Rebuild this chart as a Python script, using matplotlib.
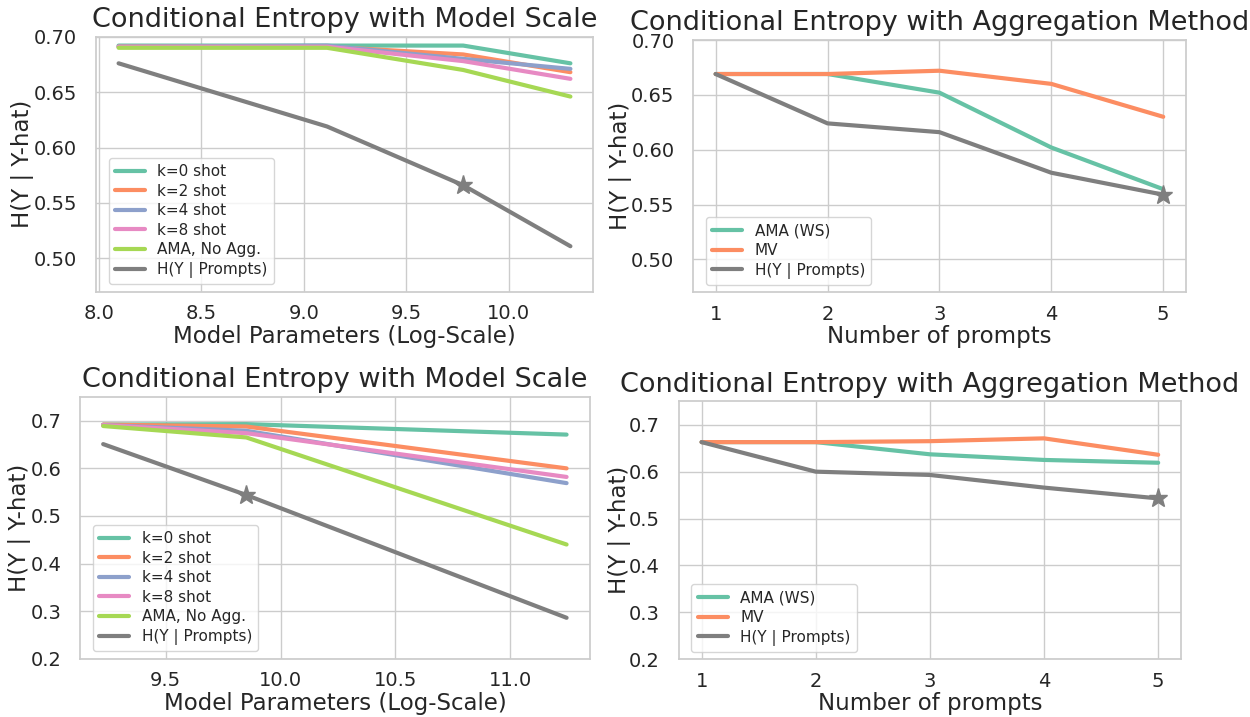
import numpy as np
import matplotlib
matplotlib.use("Agg")
import matplotlib.pyplot as plt
import seaborn as sns

sns.set_theme(style="whitegrid")
plt.rcParams['font.family'] = ['DejaVu Sans']

# colours (Set2 + grey)
pal = sns.color_palette("Set2")
grey = "#7f7f7f"

# --- top-left: model scale (log10 params) ---
scale_x1 = [8.097, 9.114, 9.778, 10.301]
k0_1 = [0.692, 0.692, 0.692, 0.676]
k2_1 = [0.691, 0.691, 0.684, 0.668]
k4_1 = [0.691, 0.692, 0.680, 0.671]
k8_1 = [0.691, 0.691, 0.678, 0.662]
ama_1 = [0.690, 0.690, 0.670, 0.646]
hyp_1 = [0.676, 0.619, 0.566, 0.511]
star_idx1 = 2

# --- top-right: aggregation ---
n_prompts = [1, 2, 3, 4, 5]
ama_ws_2 = [0.669, 0.669, 0.652, 0.602, 0.564]
mv_2 = [0.669, 0.669, 0.672, 0.660, 0.630]
hyp_2 = [0.669, 0.624, 0.616, 0.579, 0.559]

# --- bottom-left: model scale ---
scale_x3 = [9.228, 9.851, 11.245]
k0_3 = [0.692, 0.693, 0.671]
k2_3 = [0.692, 0.688, 0.600]
k4_3 = [0.691, 0.679, 0.569]
k8_3 = [0.691, 0.674, 0.582]
ama_3 = [0.689, 0.665, 0.440]
hyp_3 = [0.651, 0.544, 0.286]
star_idx3 = 1

# --- bottom-right: aggregation ---
ama_ws_4 = [0.663, 0.663, 0.637, 0.625, 0.619]
mv_4 = [0.663, 0.663, 0.665, 0.671, 0.636]
hyp_4 = [0.663, 0.600, 0.593, 0.566, 0.543]

scale_labels = ["k=0 shot", "k=2 shot", "k=4 shot", "k=8 shot", "AMA, No Agg.", "H(Y | Prompts)"]
agg_labels = ["AMA (WS)", "MV", "H(Y | Prompts)"]

lw = 3
title_fs = 19.5
label_fs = 16.5
tick_fs = 14
leg_fs = 11

fig = plt.figure(figsize=(12.5, 7.17), dpi=100)
ax1 = fig.add_axes([0.0768, 0.5932, 0.3976, 0.3556])
ax2 = fig.add_axes([0.5546, 0.5923, 0.3939, 0.3519])
ax3 = fig.add_axes([0.0640, 0.0813, 0.4078, 0.3650])
ax4 = fig.add_axes([0.5430, 0.0805, 0.4018, 0.3598])


def finish(ax, title, xlabel, ylab_x):
    ax.set_title(title, fontsize=title_fs, pad=7)
    ax.set_xlabel(xlabel, fontsize=label_fs, labelpad=1)
    ax.set_ylabel("H(Y | Y-hat)", fontsize=label_fs)
    ax.yaxis.set_label_coords(ylab_x, 0.5)
    ax.tick_params(axis='x', labelsize=tick_fs, pad=3)
    ax.tick_params(axis='y', labelsize=tick_fs, pad=7.5)
    ax.legend(loc='lower left', bbox_to_anchor=(0.01, 0.0), fontsize=leg_fs,
              labelspacing=0.3)


def scale_panel(ax, x, series, hyp, star_idx, ylab_x):
    cols = [pal[0], pal[1], pal[2], pal[3], pal[4]]
    for ys, c, lab in zip(series, cols, scale_labels[:5]):
        ax.plot(x, ys, color=c, lw=lw, label=lab)
    ax.plot(x, hyp, color=grey, lw=lw, label=scale_labels[5])
    ax.plot(x[star_idx], hyp[star_idx], marker='*', color=grey, ms=14, ls='none')
    finish(ax, "Conditional Entropy with Model Scale", "Model Parameters (Log-Scale)", ylab_x)


def agg_panel(ax, ama, mv, hyp, ylab_x):
    ax.plot(n_prompts, ama, color=pal[0], lw=lw, label=agg_labels[0])
    ax.plot(n_prompts, mv, color=pal[1], lw=lw, label=agg_labels[1])
    ax.plot(n_prompts, hyp, color=grey, lw=lw, label=agg_labels[2])
    ax.plot(n_prompts[-1], hyp[-1], marker='*', color=grey, ms=14, ls='none')
    ax.set_xticks(n_prompts)
    finish(ax, "Conditional Entropy with Aggregation Method", "Number of prompts", ylab_x)


scale_panel(ax1, scale_x1, [k0_1, k2_1, k4_1, k8_1, ama_1], hyp_1, star_idx1, -0.125)
ax1.set_ylim(0.47, 0.70)
ax1.set_yticks([0.50, 0.55, 0.60, 0.65, 0.70])
ax1.set_yticklabels(["0.50", "0.55", "0.60", "0.65", "0.70"])
ax1.set_xticks([8.0, 8.5, 9.0, 9.5, 10.0])

agg_panel(ax2, ama_ws_2, mv_2, hyp_2, -0.124)
ax2.set_ylim(0.47, 0.70)
ax2.set_yticks([0.50, 0.55, 0.60, 0.65, 0.70])
ax2.set_yticklabels(["0.50", "0.55", "0.60", "0.65", "0.70"])

scale_panel(ax3, scale_x3, [k0_3, k2_3, k4_3, k8_3, ama_3], hyp_3, star_idx3, -0.097)
ax3.set_ylim(0.2, 0.75)
ax3.set_yticks([0.2, 0.3, 0.4, 0.5, 0.6, 0.7])
ax3.set_xticks([9.5, 10.0, 10.5, 11.0])

agg_panel(ax4, ama_ws_4, mv_4, hyp_4, -0.096)
ax4.set_ylim(0.2, 0.75)
ax4.set_yticks([0.2, 0.3, 0.4, 0.5, 0.6, 0.7])

fig.savefig("out.png", dpi=100)
